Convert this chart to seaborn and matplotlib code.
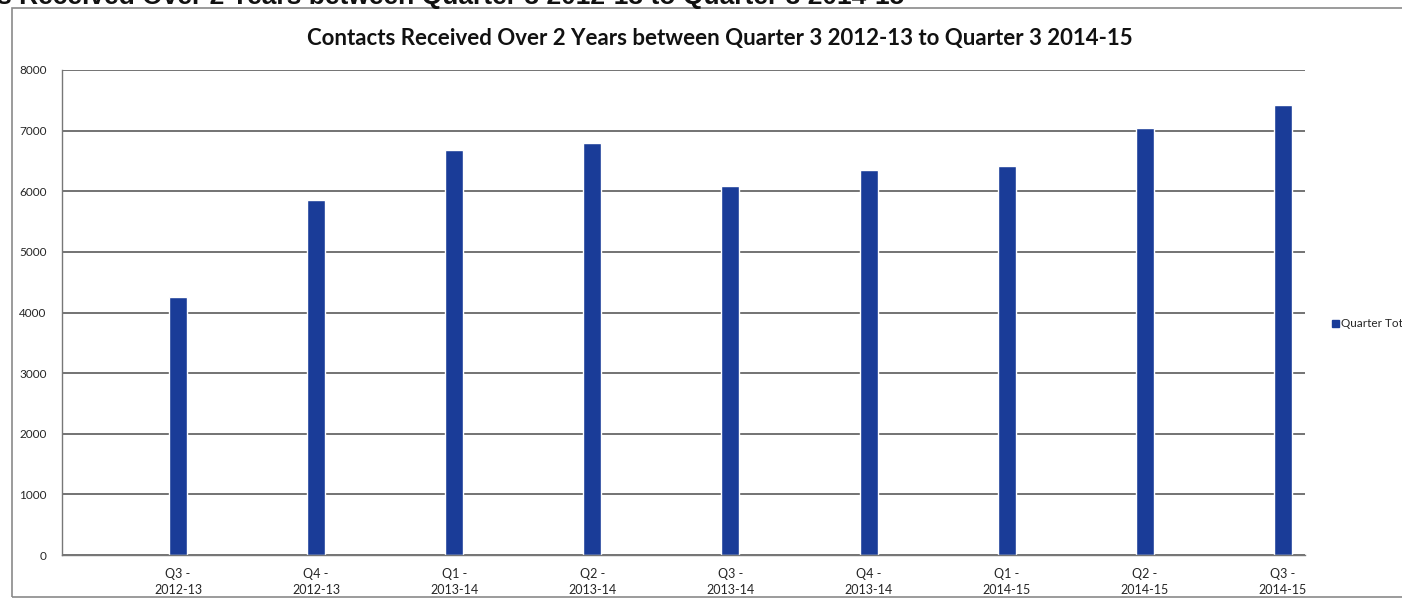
import pandas as pd
import seaborn as sns
import matplotlib.pyplot as plt
from matplotlib.patches import Patch, Rectangle

# quarter totals
quarters = ["Q3 -\n2012-13", "Q4 -\n2012-13", "Q1 -\n2013-14", "Q2 -\n2013-14",
            "Q3 -\n2013-14", "Q4 -\n2013-14", "Q1 -\n2014-15", "Q2 -\n2014-15",
            "Q3 -\n2014-15"]
contacts = [4250, 5860, 6680, 6800, 6080, 6350, 6420, 7040, 7420]
y_ticks = [0, 1000, 2000, 3000, 4000, 5000, 6000, 7000, 8000]

df = pd.DataFrame({"quarter": quarters, "contacts": contacts})

sns.set_style("white")
plt.rcParams["font.family"] = ["Lato", "DejaVu Sans"]

bar_color = "#1A3C98"

fig = plt.figure(figsize=(14.02, 5.99), dpi=100)
ax = fig.add_axes([62 / 1402, 1 - 555 / 599, (1305 - 62) / 1402, (555 - 70) / 599])

sns.barplot(data=df, x="quarter", y="contacts", color=bar_color,
            width=0.13, saturation=1, ax=ax)

ax.set_xlim(-0.84, 8.16)
ax.set_ylim(0, 8000)
ax.set_yticks(y_ticks)
ax.set_yticklabels([str(v) for v in y_ticks], fontsize=8.5)
ax.set_xticks(range(len(quarters)))
ax.set_xticklabels(quarters, fontsize=9, linespacing=1.5)
ax.set_xticks([i + k * 0.25 for i in range(-1, 9) for k in (1, 2, 3)
               if -0.84 < i + k * 0.25 < 8.16], minor=True)
ax.tick_params(axis="x", which="both", direction="out", length=4, width=1,
               color="#777777", pad=5)
ax.tick_params(axis="y", direction="out", length=5, width=1, color="#777777", pad=6)
ax.set_xlabel("")
ax.set_ylabel("")

# gridlines behind the bars
ax.yaxis.grid(True, color="#4d4d4d", lw=1.1)
ax.set_axisbelow(True)
for side in ["top", "right"]:
    ax.spines[side].set_visible(False)
for side in ["left", "bottom"]:
    ax.spines[side].set_color("#777777")
    ax.spines[side].set_linewidth(1)

fig.text(720 / 1402, 1 - 38 / 599,
         "Contacts Received Over 2 Years between Quarter 3 2012-13 to Quarter 3 2014-15",
         ha="center", va="center", fontsize=16, fontweight="bold", color="#111111")

# heading of the page, cut off by the top of the scan
fig.text(-0.002, 1.005,
         "s Received Over 2 Years between Quarter 3 2012-13 to Quarter 3 2014-15",
         ha="left", va="center", fontsize=19, fontweight="bold",
         family=["Liberation Sans", "DejaVu Sans"], color="#111111")

# chart frame
fig.patches.append(Rectangle((12 / 1402, 2 / 599), 1.0, 589 / 599,
                             transform=fig.transFigure, fill=False,
                             edgecolor="#8a8a8a", lw=1.2))

# legend label is truncated in the scan
fig.legend(handles=[Patch(color=bar_color, label="Quarter Tot")],
           loc="center left", bbox_to_anchor=(1326 / 1402, 1 - 324 / 599),
           frameon=False, fontsize=8.5, handlelength=0.6, handleheight=0.6,
           handletextpad=0.2, borderpad=0)

fig.savefig("out.png", dpi=100)
